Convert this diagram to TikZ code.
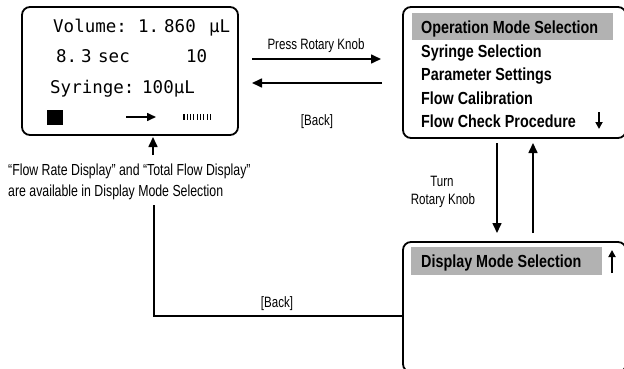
\documentclass[tikz,border=0pt]{standalone}
\usepackage{fontspec}
\usetikzlibrary{arrows.meta}
\newfontfamily\menufont[FakeStretch=0.82]{Liberation Sans}
\newfontfamily\labfont[FakeStretch=0.77]{Liberation Sans}
\newfontfamily\lcdfont{DejaVu Sans Mono}
\begin{document}
\begin{tikzpicture}[x=1pt,y=-1pt,
  box/.style={draw, line width=1.8pt, rounded corners=8pt, inner sep=0pt},
  lcdtxt/.style={font=\lcdfont\fontsize{17.5}{20}\selectfont, anchor=base west, inner sep=0pt},
  menutxt/.style={font=\menufont\bfseries\fontsize{17.5}{20}\selectfont, anchor=base west, inner sep=0pt},
  labtxt/.style={font=\labfont\fontsize{15}{18}\selectfont, inner sep=0pt, anchor=base},
  notetxt/.style={font=\labfont\fontsize{16}{19}\selectfont, inner sep=0pt, anchor=base west},
  conn/.style={line width=1.6pt, -{Triangle[length=10pt,width=9pt]}},
  small/.style={line width=1.8pt, -{Triangle[length=7pt,width=7pt]}},
  hl/.style={fill=gray!60}
]
\useasboundingbox (0,0) rectangle (624,369);
\clip (0,0) rectangle (624,369);

% boxes
\node[box, minimum width=216pt, minimum height=128pt] (lcd) at (130,71) {};
\node[box, minimum width=223pt, minimum height=131pt] (menu) at (514.5,72.5) {};
\node[box, minimum width=223pt, minimum height=130pt] (disp) at (514.5,307) {};

% LCD content
\node[lcdtxt] (v1) at (53,33) {Volume:};
\node[lcdtxt] (v2) at (138,33) {1.};
\node[lcdtxt] (v3) at (164,33) {860};
\node[lcdtxt] (v4) at (209,33) {µL};
\node[lcdtxt] (t1) at (56,63) {8.};
\node[lcdtxt] (t2) at (81,63) {3};
\node[lcdtxt] (t3) at (98,63) {sec};
\node[lcdtxt] (t4) at (186,63) {10};
\node[lcdtxt] (s1) at (50,93) {Syringe:};
\node[lcdtxt] (s2) at (142,93) {100µL};
\fill (47,110) rectangle (63,125);
\draw[line width=1.6pt, -{Triangle[length=9pt,width=8pt]}] (126,117) -- (156,117);
\foreach \i in {0,...,8} \draw[line width=1.1pt] (184+\i*3.3,114) -- ++(0,6);

% menu content
\fill[hl] (412,13) rectangle (613,40);
\node[menutxt] (m1) at (421,34) {Operation Mode Selection};
\node[menutxt] (m2) at (421,57.5) {Syringe Selection};
\node[menutxt] (m3) at (421,81) {Parameter Settings};
\node[menutxt] (m4) at (421,104.5) {Flow Calibration};
\node[menutxt] (m5) at (421,128) {Flow Check Procedure};
\draw[small] (599,112) -- (599,129);

% display mode box content
\fill[hl] (411,247) rectangle (602,275);
\node[menutxt] (d1) at (421,267) {Display Mode Selection};
\draw[small] (612,273) -- (612,250);

% connector end points
\coordinate (a1) at (252,59);
\coordinate (a2) at (381,59);
\coordinate (b1) at (382,83);
\coordinate (b2) at (252,83);
\coordinate (c1) at (497,143);
\coordinate (c2) at (497,233);
\coordinate (e1) at (533,233);
\coordinate (e2) at (533,143);
\coordinate (f1) at (153,155);
\coordinate (f2) at (153,137);
\coordinate (g1) at (154,205);
\coordinate (g2) at (154,316);
\coordinate (g3) at (403,316);

\draw[conn] (a1) -- (a2);
\draw[conn] (b1) -- (b2);
\draw[conn] (c1) -- (c2);
\draw[conn] (e1) -- (e2);
\draw[conn] (f1) -- (f2);
\draw[line width=1.6pt] (g1) -- (g2) -- (g3);

% labels
\node[labtxt] (l1) at (316,50) {Press Rotary Knob};
\node[labtxt] (l2) at (317,125) {[Back]};
\node[labtxt] (l3) at (442,186) {Turn};
\node[labtxt] (l4) at (443,204) {Rotary Knob};
\node[labtxt] (l5) at (277,307) {[Back]};
\node[notetxt] (n1) at (8,175) {“Flow Rate Display” and “Total Flow Display”};
\node[notetxt] (n2) at (8,196) {are available in Display Mode Selection};
\end{tikzpicture}
\end{document}
